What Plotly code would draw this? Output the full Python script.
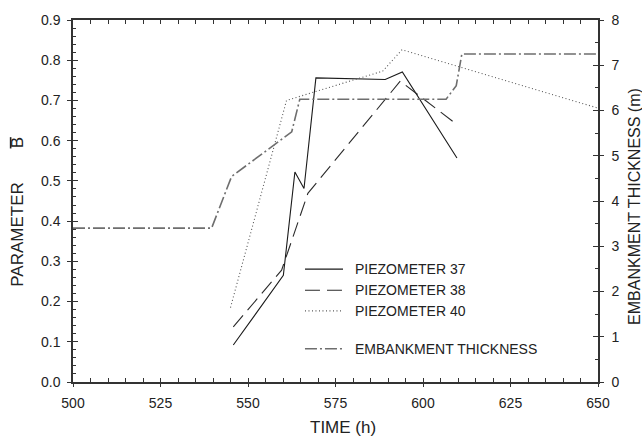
import plotly.graph_objects as go

# ---- data ----
t37 = [545.8, 560.1, 563.4, 566.0, 569.4, 589.2, 594.1, 609.7]
b37 = [0.092, 0.265, 0.522, 0.481, 0.756, 0.752, 0.771, 0.557]

t38 = [545.8, 559.6, 567.1, 593.5, 609.7]
b38 = [0.137, 0.278, 0.469, 0.748, 0.640]

t40 = [545.0, 561.0, 588.5, 594.0, 650.0]
b40 = [0.185, 0.700, 0.773, 0.826, 0.681]

t_emb = [500.0, 539.6, 545.3, 562.5, 564.8, 606.6, 609.5, 611.1, 650.0]
h_emb = [3.40, 3.40, 4.54, 5.53, 6.25, 6.25, 6.55, 7.25, 7.25]

x_ticks = [500, 525, 550, 575, 600, 625, 650]
b_ticks = [0.0, 0.1, 0.2, 0.3, 0.4, 0.5, 0.6, 0.7, 0.8, 0.9]
h_ticks = [0, 1, 2, 3, 4, 5, 6, 7, 8]

series_names = ["PIEZOMETER 37", "PIEZOMETER 38", "PIEZOMETER 40", "EMBANKMENT THICKNESS"]

FONT = "Liberation Sans, Arial, Helvetica, sans-serif"
AX = "#333333"
TXT = "#222222"

styles = [
    dict(color="#1a1a1a", width=1.1, dash="solid"),
    dict(color="#2a2a2a", width=1.1, dash="15px,7px"),
    dict(color="#555555", width=1.1, dash="1px,2.5px"),
    dict(color="#6e6e6e", width=1.6, dash="12px,3px,2px,3px"),
]

# plot-area pixel geometry (for placing legend / titles)
L, R, T, B = 73.3, 597.7, 14.0, 381.7
W, H = R - L, B - T
px = lambda x: (x - L) / W
py = lambda y: (B - y) / H

fig = go.Figure()
fig.add_trace(go.Scatter(x=t37, y=b37, mode="lines", name=series_names[0], line=styles[0]))
fig.add_trace(go.Scatter(x=t38, y=b38, mode="lines", name=series_names[1], line=styles[1]))
fig.add_trace(go.Scatter(x=t40, y=b40, mode="lines", name=series_names[2], line=styles[2]))
fig.add_trace(go.Scatter(x=t_emb, y=h_emb, mode="lines", name=series_names[3], yaxis="y2",
                         line=styles[3]))
# carriers for the outside halves of the crossing major ticks
fig.add_trace(go.Scatter(x=[], y=[], xaxis="x3", yaxis="y", hoverinfo="skip"))
fig.add_trace(go.Scatter(x=[], y=[], xaxis="x", yaxis="y3", hoverinfo="skip"))
fig.add_trace(go.Scatter(x=[], y=[], xaxis="x", yaxis="y4", hoverinfo="skip"))

tickfont = dict(family=FONT, size=14, color=TXT)

fig.update_layout(
    width=642, height=445,
    margin=dict(l=L, r=642 - R, t=T, b=445 - B, pad=0),
    paper_bgcolor="white", plot_bgcolor="white",
    font=dict(family=FONT, color=TXT),
    showlegend=False,
    xaxis=dict(range=[500, 650], tickvals=x_ticks, ticks="inside", ticklen=4, tickwidth=1,
               tickcolor=AX, showline=True, linecolor=AX, linewidth=1.5, mirror="allticks",
               showgrid=False, zeroline=False, tickfont=tickfont, ticklabelstandoff=7,
               minor=dict(ticks="inside", ticklen=3, tickwidth=1, tickcolor=AX, dtick=5, tick0=500,
                          showgrid=False)),
    xaxis3=dict(range=[500, 650], overlaying="x", anchor="y", side="bottom", tickvals=x_ticks,
                ticks="outside", ticklen=4, tickwidth=1, tickcolor=AX, showticklabels=False,
                showline=False, showgrid=False, zeroline=False),
    yaxis=dict(range=[0, 0.9], tickvals=b_ticks, tickformat=".1f", ticks="inside", ticklen=5,
               tickwidth=1, tickcolor=AX, showline=True, linecolor=AX, linewidth=1.5,
               showgrid=False, zeroline=False, tickfont=tickfont, ticklabelstandoff=8,
               minor=dict(ticks="inside", ticklen=3, tickwidth=1, tickcolor=AX, dtick=0.02, tick0=0,
                          showgrid=False)),
    yaxis3=dict(range=[0, 0.9], overlaying="y", anchor="x", side="left", tickvals=b_ticks,
                ticks="outside", ticklen=5, tickwidth=1, tickcolor=AX, showticklabels=False,
                showline=False, showgrid=False, zeroline=False),
    yaxis2=dict(range=[0, 8], overlaying="y", anchor="x", side="right", tickvals=h_ticks,
                ticks="inside", ticklen=5, tickwidth=1, tickcolor=AX, showline=True, linecolor=AX,
                linewidth=1.5, showgrid=False, zeroline=False, tickfont=tickfont, ticklabelstandoff=9,
                minor=dict(ticks="inside", ticklen=3, tickwidth=1, tickcolor=AX, dtick=0.5, tick0=0,
                           showgrid=False)),
    yaxis4=dict(range=[0, 8], overlaying="y", anchor="x", side="right", tickvals=h_ticks,
                ticks="outside", ticklen=5, tickwidth=1, tickcolor=AX, showticklabels=False,
                showline=False, showgrid=False, zeroline=False),
)

# ---- legend drawn by hand (sample line + label), matching the reference layout ----
legend_rows = [267.0, 288.5, 309.5, 348.0]
for name, st, yrow in zip(series_names, styles, legend_rows):
    fig.add_shape(type="line", xref="paper", yref="paper",
                  x0=px(305), x1=px(343), y0=py(yrow), y1=py(yrow),
                  line=dict(color=st["color"], width=st["width"], dash=st["dash"]))
    fig.add_annotation(text=name, xref="paper", yref="paper", x=px(353), y=py(yrow),
                       xanchor="left", yanchor="middle", showarrow=False,
                       font=dict(family=FONT, size=14, color=TXT))

# ---- axis titles ----
fig.add_annotation(text="PARAMETER", xref="paper", yref="paper",
                   x=px(17.5), y=py(232), textangle=-90,
                   showarrow=False, font=dict(family=FONT, size=17, color=TXT),
                   xanchor="center", yanchor="middle")
fig.add_annotation(text="B", xref="paper", yref="paper",
                   x=px(17.5), y=py(139), textangle=-90,
                   showarrow=False, font=dict(family=FONT, size=17, color=TXT),
                   xanchor="center", yanchor="middle")
# overbar of B-bar (rotated title, so the bar is a short vertical stroke left of the B)
fig.add_shape(type="line", xref="paper", yref="paper",
              x0=px(11.0), x1=px(11.0), y0=py(133), y1=py(144.5),
              line=dict(color=TXT, width=1.6))
fig.add_annotation(text="EMBANKMENT THICKNESS (m)", xref="paper", yref="paper",
                   x=px(633.5), y=py(203), textangle=-90,
                   showarrow=False, font=dict(family=FONT, size=16, color=TXT),
                   xanchor="center", yanchor="middle")
fig.add_annotation(text="TIME (h)", xref="paper", yref="paper",
                   x=px(343), y=py(428),
                   showarrow=False, font=dict(family=FONT, size=17, color=TXT),
                   xanchor="center", yanchor="middle")

fig.write_html("out.html")
